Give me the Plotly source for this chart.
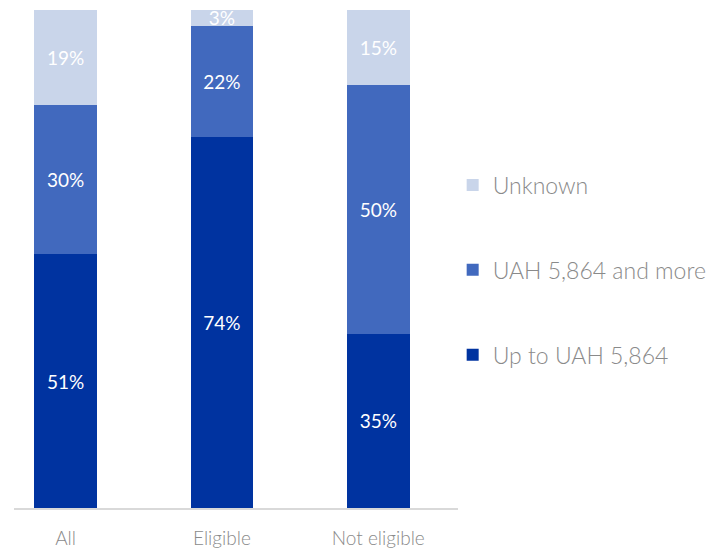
import plotly.graph_objects as go

categories = ["All", "Eligible", "Not eligible"]
up_to = [51, 74.4, 35]
and_more = [30, 22.4, 50]
unknown = [19, 3.2, 15]

series_names = ["Up to UAH 5,864", "UAH 5,864 and more", "Unknown"]
colors = ["#0033A0", "#4169BE", "#C9D5EA"]

fig = go.Figure()
for i, (name, vals, col) in enumerate(zip(series_names, [up_to, and_more, unknown], colors)):
    fig.add_trace(go.Bar(
        x=categories, y=vals, name=name, marker=dict(color=col, line=dict(width=0)),
        width=0.4, texttemplate="%{y:.0f}%", textposition="inside",
        insidetextanchor="middle", constraintext="none",
        textfont=dict(color="white", size=19, family="Lato"),
        legendgroup=f"g{i}", legendrank=10 - i,
    ))

fig.update_layout(
    barmode="stack",
    width=723, height=549,
    margin=dict(l=6, r=273, t=2, b=49),
    plot_bgcolor="white", paper_bgcolor="white",
    font=dict(family="Lato", color="#808080"),
    uniformtext=dict(minsize=19, mode="show"),
    showlegend=True,
    legend=dict(x=0.988, y=0.478, xanchor="left", yanchor="middle",
                font=dict(size=23, color="#8a8a8a", family="Lato", weight=300),
                traceorder="grouped", tracegroupgap=52,
                itemwidth=30),
    xaxis=dict(range=[-0.33, 2.51], showline=True, linecolor="#d9d9d9", linewidth=1.5,
               ticks="", ticklabelstandoff=12,
               tickfont=dict(size=19, color="#8a8a8a", family="Lato", weight=300),
               showgrid=False, fixedrange=True),
    yaxis=dict(range=[0, 100], visible=False, showgrid=False),
)

fig.write_html("out.html")
